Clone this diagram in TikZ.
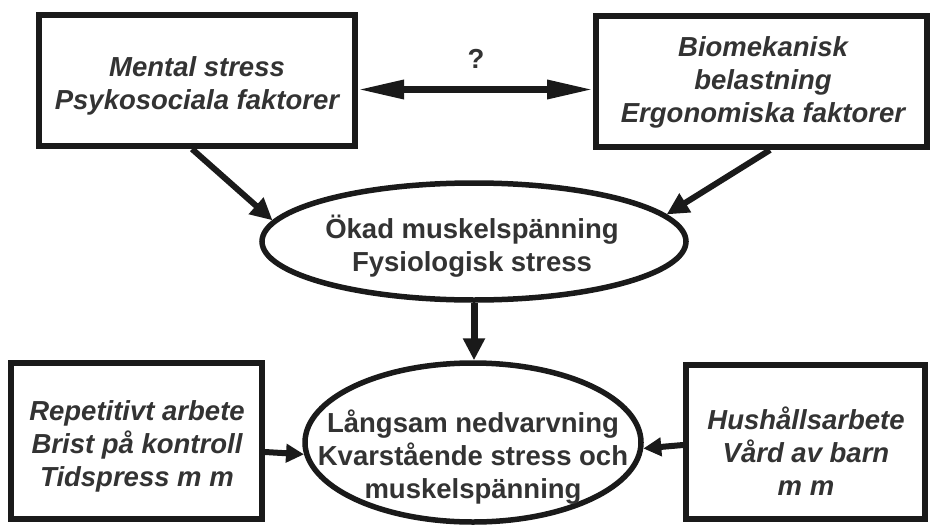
\documentclass[tikz,border=0pt]{standalone}
\usepackage{fontspec}
\setmainfont{Liberation Sans}
\usetikzlibrary{arrows.meta,shapes.geometric}
\definecolor{linec}{HTML}{1A1A1A}
\definecolor{textc}{HTML}{333333}
\begin{document}
\begin{tikzpicture}[x=1pt,y=-1pt,
  box/.style={rectangle, draw=linec, line width=6pt, fill=white, inner sep=0pt},
  boxtext/.style={text=textc, font=\fontsize{27.5}{33}\selectfont\bfseries\itshape, align=center, inner sep=0pt},
  oval/.style={ellipse, draw=linec, line width=5.5pt, fill=white, inner sep=0pt},
  ovaltext/.style={text=textc, font=\fontsize{27.5}{33}\selectfont\bfseries, align=center, inner sep=0pt},
  arr/.style={draw=linec, line width=6pt, -{Triangle[length=22pt,width=21pt]}},
  sidearr/.style={draw=linec, line width=6pt, -{Triangle[length=18pt,width=18pt]}},
  dblarr/.style={draw=linec, line width=6.5pt, {Triangle[length=46pt,width=18pt]}-{Triangle[length=46pt,width=18pt]}},
]
\useasboundingbox (0,0) rectangle (933,527);
\fill[white] (0,0) rectangle (933,527);

\node[box, minimum width=316pt, minimum height=131pt] (tl) at (197,80.5) {};
\node[boxtext] (tlt) at (197,86) {Mental stress\\Psykosociala faktorer};
\node[box, minimum width=331pt, minimum height=131pt] (tr) at (761.5,81.5) {};
\node[boxtext] (trt) at (763,82.5) {Biomekanisk\\belastning\\Ergonomiska faktorer};
\node[box, minimum width=251pt, minimum height=156pt] (bl) at (136.5,441) {};
\node[boxtext] (blt) at (137,446) {Repetitivt arbete\\Brist på kontroll\\Tidspress m m};
\node[box, minimum width=239pt, minimum height=154pt] (br) at (805.5,442) {};
\node[boxtext] (brt) at (806,451) {Hushållsarbete\\Vård av barn\\m m};

\node[oval, minimum width=424pt, minimum height=117pt] (e1) at (474,241.5) {};
\node[ovaltext] (t1) at (472,246.5) {Ökad muskelspänning\\Fysiologisk stress};
\node[oval, minimum width=336pt, minimum height=159pt] (e2) at (473,442.5) {};
\node[ovaltext] (t2) at (473,457) {Långsam nedvarvning\\Kvarstående stress och\\muskelspänning};

\node[text=textc, font=\fontsize{27.5}{33}\selectfont\bfseries, anchor=base, inner sep=0pt] (q) at (476,68) {?};

\draw[dblarr] ([yshift=-9pt]tl.east) -- ([yshift=-8pt]tr.west);
\draw[arr] ([xshift=-5pt]tl.south) -- (e1.174);
\draw[arr] ([xshift=8.5pt]tr.south) -- (e1.8);
\draw[arr, line width=7pt] (e1.south) -- (e1.south |- e2.north);
\draw[sidearr] ([yshift=-11pt]bl.east) -- (e2.184);
\draw[sidearr] ([yshift=-3pt]br.west) -- (e2.358);
\end{tikzpicture}
\end{document}
